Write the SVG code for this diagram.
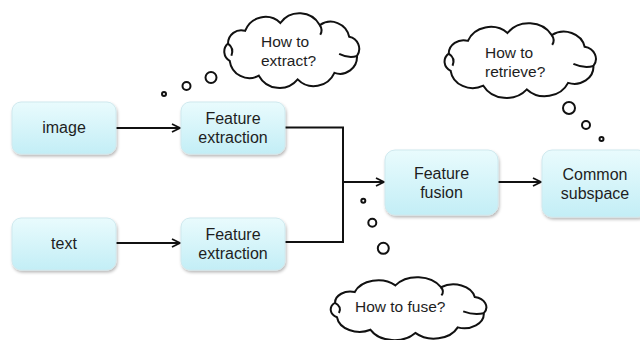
<svg xmlns="http://www.w3.org/2000/svg" xmlns:xlink="http://www.w3.org/1999/xlink" width="640" height="340" viewBox="0 0 640 340">
  <defs>
    <linearGradient id="boxFill" x1="0" y1="0" x2="0" y2="1">
      <stop offset="0" stop-color="#e9fbfd"/>
      <stop offset="1" stop-color="#c3eef6"/>
    </linearGradient>
    <filter id="shadow" x="-10%" y="-10%" width="125%" height="130%">
      <feDropShadow dx="1" dy="2" stdDeviation="1.5" flood-color="#000" flood-opacity="0.28"/>
    </filter>
    <marker id="arrow" viewBox="0 0 10 10" refX="9" refY="5" markerWidth="10" markerHeight="10" markerUnits="userSpaceOnUse" orient="auto">
      <path d="M1,1 L9,5 L1,9" fill="none" stroke="#111" stroke-width="1.8" stroke-linejoin="miter"/>
    </marker>
    <!-- thought-cloud outline in a 0..155 x 0..79 box -->
    <g id="cloud">
      <path class="cloud" d="M148.9,43.2 A18,18 0 0 1 125,61 A24,24 0 0 1 86.1,67.9 A25,25 0 0 1 45,64 A21,21 0 0 1 14.2,48.3 A11,11 0 0 1 12.4,30.2 A14,14 0 0 1 30.5,16.8 A23,23 0 0 1 67.8,8.5 A25,25 0 0 1 109.6,10.8 A20,20 0 0 1 140.6,23 A13,13 0 0 1 148.9,43.2 Z"/>
      <path class="crease" d="M130,41 Q140,46 148.9,43.2"/>
      <path class="crease" d="M12.4,30.2 Q19,35 16,43"/>
      <path class="crease" d="M109.6,10.8 Q113,16 110,21"/>
    </g>
  </defs>
  <style>
    .box { fill: url(#boxFill); stroke: #cfe9ee; stroke-width: 1; filter: url(#shadow); }
    .label { font-family: "Liberation Sans", Arial, sans-serif; font-size: 16px; fill: #1e1e1e; text-anchor: middle; }
    .think { font-family: "Liberation Sans", Arial, sans-serif; font-size: 15.5px; fill: #1e1e1e; }
    .cloud { fill: #fff; stroke: #111; stroke-width: 2; vector-effect: non-scaling-stroke; }
    .crease { fill: none; stroke: #111; stroke-width: 2; vector-effect: non-scaling-stroke; }
    .bubble { fill: #fff; stroke: #111; stroke-width: 2; }
    .wire { fill: none; stroke: #111; stroke-width: 2; }
  </style>

  <rect width="640" height="340" fill="#fff"/>

  <!-- connectors -->
  <g id="connectors">
    <line class="wire" x1="116" y1="128" x2="180" y2="128" marker-end="url(#arrow)"/>
    <line class="wire" x1="116" y1="243" x2="180" y2="243" marker-end="url(#arrow)"/>
    <polyline class="wire" points="285,127.5 343,127.5 343,242 285,242"/>
    <line class="wire" x1="343" y1="182" x2="384" y2="182" marker-end="url(#arrow)"/>
    <line class="wire" x1="498" y1="182" x2="541" y2="182" marker-end="url(#arrow)"/>
  </g>

  <g id="image">
    <rect class="box" x="12" y="102" width="104" height="52" rx="9"/>
    <text class="label" x="64" y="133">image</text>
  </g>

  <g id="text">
    <rect class="box" x="12" y="218" width="104" height="52" rx="9"/>
    <text class="label" x="64" y="249">text</text>
  </g>

  <g id="extract-image">
    <rect class="box" x="181" y="102" width="104" height="52" rx="9"/>
    <text class="label" x="233" y="124">Feature</text>
    <text class="label" x="233" y="143">extraction</text>
  </g>

  <g id="extract-text">
    <rect class="box" x="181" y="218" width="104" height="52" rx="9"/>
    <text class="label" x="233" y="240">Feature</text>
    <text class="label" x="233" y="259">extraction</text>
  </g>

  <g id="fusion">
    <rect class="box" x="385" y="150" width="113" height="65" rx="10"/>
    <text class="label" x="441.5" y="179">Feature</text>
    <text class="label" x="441.5" y="198">fusion</text>
  </g>

  <g id="subspace">
    <rect class="box" x="542" y="150" width="106" height="67" rx="10"/>
    <text class="label" x="595" y="180">Common</text>
    <text class="label" x="595" y="199">subspace</text>
  </g>

  <!-- thought clouds -->
  <g id="cloud-extract">
    <circle class="bubble" cx="164" cy="94" r="2"/>
    <circle class="bubble" cx="186.5" cy="86" r="4"/>
    <circle class="bubble" cx="211" cy="77.5" r="5.5"/>
    <use href="#cloud" xlink:href="#cloud" transform="translate(216.3 14.9) scale(0.945 0.95)"/>
    <text class="think" x="261" y="46.5">How to</text>
    <text class="think" x="261" y="66">extract?</text>
  </g>

  <g id="cloud-retrieve">
    <circle class="bubble" cx="569" cy="108" r="6"/>
    <circle class="bubble" cx="586" cy="125" r="4"/>
    <circle class="bubble" cx="601.5" cy="139" r="2"/>
    <use href="#cloud" xlink:href="#cloud" transform="translate(435.6 24.9) scale(1.06 0.95)"/>
    <text class="think" x="485" y="58">How to</text>
    <text class="think" x="485" y="77">retrieve?</text>
  </g>

  <g id="cloud-fuse">
    <circle class="bubble" cx="363.3" cy="200.7" r="2"/>
    <circle class="bubble" cx="372.3" cy="222.7" r="4"/>
    <circle class="bubble" cx="383.3" cy="248.3" r="5.5"/>
    <use href="#cloud" xlink:href="#cloud" transform="translate(321.5 278.6) scale(1.09 0.8)"/>
    <text class="think" x="355" y="312">How to fuse?</text>
  </g>
</svg>
